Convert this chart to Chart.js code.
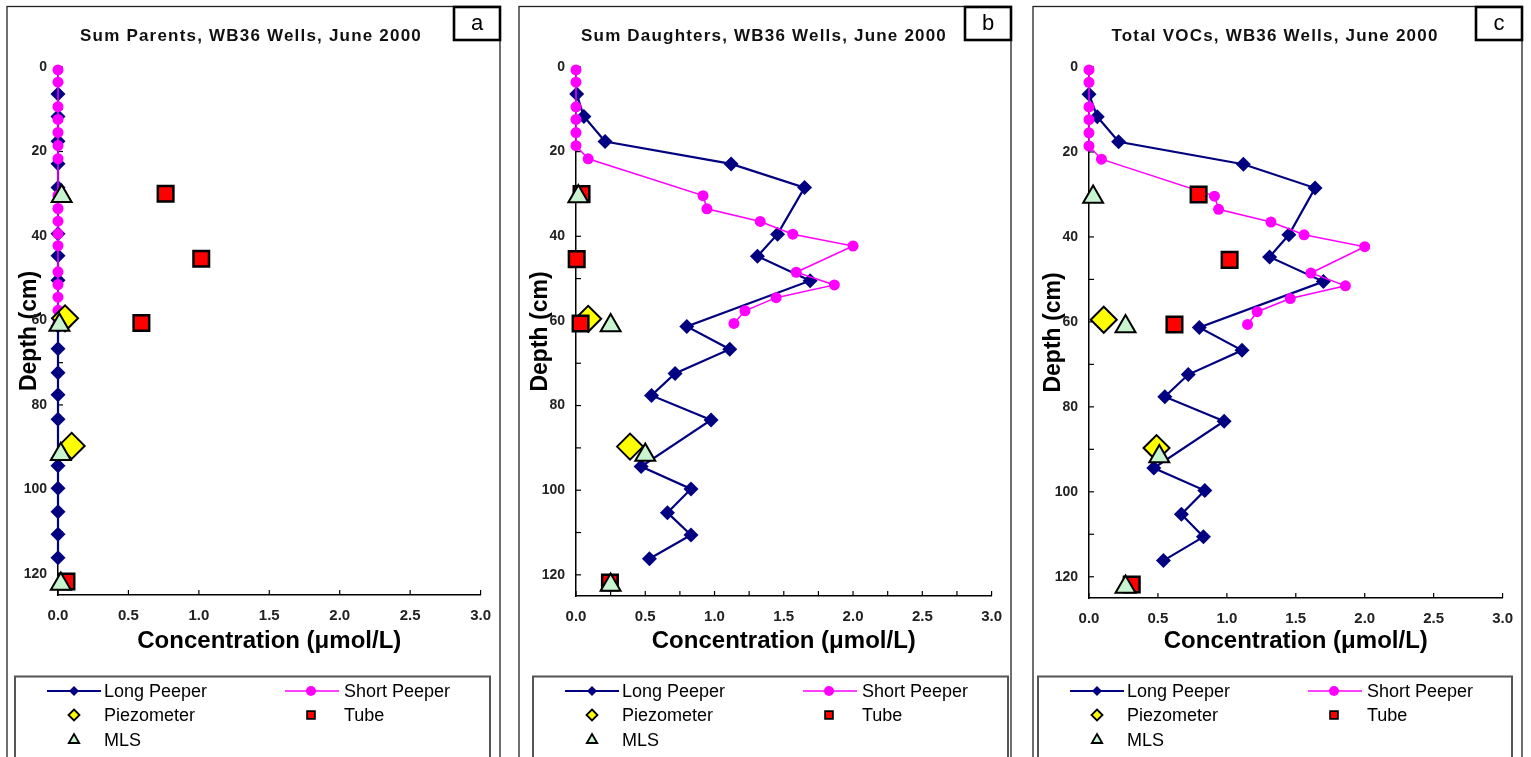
<!DOCTYPE html>
<html>
<head>
<meta charset="utf-8">
<script src="https://cdn.jsdelivr.net/npm/chart.js@4.4.1/dist/chart.umd.min.js"></script>
<style>
  html, body { margin: 0; padding: 0; background: #fff; }
  body { width: 1531px; height: 757px; position: relative; overflow: hidden; }
  canvas { position: absolute; top: 0; }
</style>
</head>
<body>
<canvas id="panelA"></canvas>
<canvas id="panelB"></canvas>
<canvas id="panelC"></canvas>
<script>
// --- data ---
const titles = ['Sum Parents, WB36 Wells, June 2000', 'Sum Daughters, WB36 Wells, June 2000', 'Total VOCs, WB36 Wells, June 2000'];
const panelLetters = ['a', 'b', 'c'];
const seriesNames = ['Long Peeper', 'Short Peeper', 'Piezometer', 'Tube', 'MLS'];
const xTickLabels = ['0.0', '0.5', '1.0', '1.5', '2.0', '2.5', '3.0'];
const yTickLabels = ['0', '20', '40', '60', '80', '100', '120'];

const depthLong = [6.4, 11.7, 17.6, 22.9, 28.5, 39.5, 44.7, 50.5, 61.3, 66.7, 72.4, 77.6, 83.4, 94.4, 99.7, 105.3, 110.6, 116.2];
const longA = [0, 0, 0, 0, 0, 0, 0, 0, 0, 0, 0, 0, 0, 0, 0, 0, 0, 0];
const longB = [0.005, 0.057, 0.21, 1.12, 1.65, 1.455, 1.31, 1.69, 0.8, 1.11, 0.715, 0.545, 0.975, 0.47, 0.83, 0.66, 0.83, 0.53];
const longC = [0.0, 0.06, 0.215, 1.12, 1.64, 1.45, 1.31, 1.70, 0.8, 1.11, 0.72, 0.55, 0.98, 0.47, 0.84, 0.67, 0.83, 0.54];

const depthShort = [0.7, 3.6, 9.4, 12.4, 15.5, 18.6, 21.7, 30.4, 33.5, 36.5, 39.5, 42.3, 48.5, 51.5, 54.5, 57.6, 60.6];
const shortA = [0, 0, 0, 0, 0, 0, 0, 0, 0, 0, 0, 0, 0, 0, 0, 0, 0];
const shortB = [0, 0, 0, 0, 0, 0, 0.088, 0.917, 0.945, 1.33, 1.565, 2.0, 1.59, 1.865, 1.445, 1.22, 1.14];
const shortC = [0, 0, 0, 0, 0, 0, 0.09, 0.91, 0.94, 1.32, 1.56, 2.0, 1.61, 1.86, 1.46, 1.22, 1.15];

const depthPiezo = [59.5, 89.7];
const piezoA = [0.05, 0.097];
const piezoB = [0.088, 0.39];
const piezoC = [0.107, 0.49];

const depthTube = [30.0, 45.4, 60.6, 121.8];
const tubeA = [0.764, 1.017, 0.592, 0.06];
const tubeB = [0.04, 0.005, 0.033, 0.245];
const tubeC = [0.795, 1.02, 0.62, 0.31];

const depthMLS = [30.6, 61.1, 91.7, 122.4];
const mlsA = [0.026, 0.01, 0.02, 0.02];
const mlsB = [0.017, 0.25, 0.5, 0.25];
const mlsC = [0.03, 0.265, 0.51, 0.265];

// --- page layout of the three panels (page pixels) ---
const panels = [
  { id: 'panelA', border: [7, 500], axis: [58, 482], bottom: 595, yTitleX: 30, titleX: 251, legend: [15, 490], xStep: 0.5,
    long: longA, short: shortA, piezo: piezoA, tube: tubeA, mls: mlsA },
  { id: 'panelB', border: [519, 1011], axis: [576, 998], bottom: 596, yTitleX: 541, titleX: 764, legend: [533, 1008], xStep: 0.25,
    long: longB, short: shortB, piezo: piezoB, tube: tubeB, mls: mlsB },
  { id: 'panelC', border: [1033, 1522], axis: [1089, 1508], bottom: 598, yTitleX: 1054, titleX: 1275, legend: [1038, 1512], xStep: 0.5,
    long: longC, short: shortC, piezo: piezoC, tube: tubeC, mls: mlsC }
];

const FONT = "'Liberation Sans', Arial, sans-serif";
const PAGE_H = 757;

function pts(xs, depths) {
  return xs.map((v, i) => ({ x: v, y: depths[i] }));
}

function drawMarker(ctx, style, x, y, r, fill, stroke, lw) {
  ctx.save();
  ctx.beginPath();
  if (style === 'rectRot') {
    ctx.moveTo(x, y - r); ctx.lineTo(x + r, y); ctx.lineTo(x, y + r); ctx.lineTo(x - r, y); ctx.closePath();
  } else if (style === 'rect') {
    const s = r * Math.SQRT1_2;
    ctx.rect(x - s, y - s, 2 * s, 2 * s);
  } else if (style === 'triangle') {
    ctx.moveTo(x, y - r); ctx.lineTo(x + r * 0.866, y + r * 0.5); ctx.lineTo(x - r * 0.866, y + r * 0.5); ctx.closePath();
  } else {
    ctx.arc(x, y, r, 0, Math.PI * 2);
  }
  ctx.fillStyle = fill; ctx.fill();
  if (lw > 0) { ctx.lineWidth = lw; ctx.strokeStyle = stroke; ctx.stroke(); }
  ctx.restore();
}

// panel frame, title, letter box, inside ticks, legend
const decorPlugin = {
  id: 'decor',
  beforeDatasetsDraw(chart) {
    const ctx = chart.ctx;
    const { x, y } = chart.scales;
    ctx.save();
    ctx.strokeStyle = '#000';
    ctx.lineWidth = 1.2;
    x.ticks.forEach(t => {
      const px = x.getPixelForValue(t.value);
      ctx.beginPath(); ctx.moveTo(px, y.bottom); ctx.lineTo(px, y.bottom - 5); ctx.stroke();
    });
    y.ticks.forEach(t => {
      const py = y.getPixelForValue(t.value);
      ctx.beginPath(); ctx.moveTo(x.left, py); ctx.lineTo(x.left + 5, py); ctx.stroke();
    });
    ctx.restore();
  },
  afterDraw(chart) {
    const ctx = chart.ctx;
    const p = chart.options.plugins.decor;
    const off = p.canvasLeft;
    const w = chart.width;
    ctx.save();

    // outer frame
    ctx.strokeStyle = '#222';
    ctx.lineWidth = 1.3;
    ctx.strokeRect(3, 6.5, w - 6, PAGE_H + 10);

    // chart title
    ctx.fillStyle = '#111';
    ctx.font = 'bold 17px ' + FONT;
    ctx.letterSpacing = '1.2px';
    ctx.textAlign = 'center';
    ctx.textBaseline = 'middle';
    ctx.fillText(p.title, p.titleX - off, 36);
    ctx.letterSpacing = '0px';

    // letter box
    const bw = 46, bh = 33;
    const bx = w - 3 - bw, by = 7;
    ctx.fillStyle = '#fff';
    ctx.fillRect(bx, by, bw, bh);
    ctx.lineWidth = 2.6;
    ctx.strokeStyle = '#000';
    ctx.strokeRect(bx, by, bw, bh);
    ctx.fillStyle = '#000';
    ctx.font = '22px ' + FONT;
    ctx.fillText(p.letter, bx + bw / 2, by + bh / 2);

    // legend box
    const lx = p.legend[0] - off, lr = p.legend[1] - off;
    ctx.lineWidth = 2;
    ctx.strokeStyle = '#555';
    ctx.strokeRect(lx, 676.5, lr - lx, 100);

    const rows = [691, 715, 740];
    const colLine = [32, 270], colMark = [59, 296], colText = [89, 329];
    ctx.font = '18px ' + FONT;
    ctx.textAlign = 'left';
    chart.data.datasets.forEach((ds, i) => {
      const row = Math.floor(i / 2), col = i % 2;
      const yy = rows[row];
      const mx = lx + colMark[col];
      if (ds.showLine) {
        ctx.beginPath();
        ctx.lineWidth = ds.borderWidth;
        ctx.strokeStyle = ds.borderColor;
        ctx.moveTo(lx + colLine[col], yy);
        ctx.lineTo(lx + colLine[col] + 54, yy);
        ctx.stroke();
        drawMarker(ctx, ds.pointStyle, mx, yy, 5, ds.pointBackgroundColor, ds.pointBorderColor, 0);
      } else {
        drawMarker(ctx, ds.pointStyle, mx, yy, ds.pointStyle === 'triangle' ? 6 : 5.5, ds.pointBackgroundColor, '#000', 1.8);
      }
      ctx.fillStyle = '#000';
      ctx.fillText(ds.label, lx + colText[col], yy + 1);
    });
    ctx.restore();
  }
};

panels.forEach((pn, idx) => {
  const canvas = document.getElementById(pn.id);
  const canvasLeft = pn.border[0] - 3;
  const width = pn.border[1] - pn.border[0] + 6;
  canvas.style.left = canvasLeft + 'px';
  canvas.width = width;
  canvas.height = PAGE_H;

  const padLeft = pn.yTitleX - 13.8 - canvasLeft;
  const yWidth = pn.axis[0] - canvasLeft - padLeft;
  const padBottom = 77;
  const xHeight = (PAGE_H - padBottom) - pn.bottom;

  const datasets = [
    { label: seriesNames[0], data: pts(pn.long, depthLong), showLine: true, borderColor: '#000080', borderWidth: 2.2,
      pointStyle: 'rectRot', pointRadius: 7.5, pointBackgroundColor: '#000080', pointBorderColor: '#000080', pointBorderWidth: 0, order: 4 },
    { label: seriesNames[1], data: pts(pn.short, depthShort), showLine: true, borderColor: '#FF00FF', borderWidth: 1.5,
      pointStyle: 'circle', pointRadius: 5.5, pointBackgroundColor: '#FF00FF', pointBorderColor: '#FF00FF', pointBorderWidth: 0, order: 3 },
    { label: seriesNames[2], data: pts(pn.piezo, depthPiezo), showLine: false,
      pointStyle: 'rectRot', pointRadius: 13, pointBackgroundColor: '#FFFF00', pointBorderColor: '#000', pointBorderWidth: 2, order: 2 },
    { label: seriesNames[3], data: pts(pn.tube, depthTube), showLine: false,
      pointStyle: 'rect', pointRadius: 11, pointBackgroundColor: '#FF0000', pointBorderColor: '#000', pointBorderWidth: 2.5, order: 1 },
    { label: seriesNames[4], data: pts(pn.mls, depthMLS), showLine: false,
      pointStyle: 'triangle', pointRadius: 11.5, pointBackgroundColor: '#C8F5D0', pointBorderColor: '#000', pointBorderWidth: 2, order: 0 }
  ];
  datasets.forEach(d => { d.clip = false; d.tension = 0; d.pointHoverRadius = d.pointRadius; });

  new Chart(canvas, {
    type: 'scatter',
    data: { datasets },
    options: {
      responsive: false,
      animation: false,
      events: [],
      layout: { padding: { left: padLeft, right: canvasLeft + width - pn.axis[1], top: 67, bottom: padBottom } },
      plugins: {
        legend: { display: false },
        tooltip: { enabled: false },
        title: { display: false },
        decor: { canvasLeft, title: titles[idx], letter: panelLetters[idx], titleX: pn.titleX, legend: pn.legend }
      },
      scales: {
        x: {
          type: 'linear', position: 'bottom', min: 0, max: 3,
          afterFit: s => { s.height = xHeight; },
          grid: { drawOnChartArea: false, drawTicks: false },
          border: { color: '#000', width: 1.5 },
          ticks: {
            stepSize: pn.xStep, autoSkip: false, maxRotation: 0, padding: 12,
            color: '#222', font: { family: FONT, size: 15, weight: 'bold' },
            callback: v => { const k = v / 0.5; return Math.abs(k - Math.round(k)) < 1e-6 ? xTickLabels[Math.round(k)] : ''; }
          },
          title: { display: true, text: 'Concentration (\u03bcmol/L)', color: '#000',
            font: { family: FONT, size: 24, weight: 'bold' }, padding: { top: 0, bottom: 24 } }
        },
        y: {
          type: 'linear', position: 'left', reverse: true, min: 0, max: 125,
          afterFit: s => { s.width = yWidth; },
          grid: { drawOnChartArea: false, drawTicks: false },
          border: { color: '#000', width: 1.5 },
          ticks: {
            stepSize: 10, includeBounds: false, autoSkip: false, padding: 11,
            color: '#222', font: { family: FONT, size: 14, weight: 'bold' },
            callback: v => (v % 20 === 0 ? yTickLabels[v / 20] : '')
          },
          title: { display: true, text: 'Depth (cm)', color: '#000',
            font: { family: FONT, size: 23, weight: 'bold' }, padding: { top: 0, bottom: 0 } }
        }
      }
    },
    plugins: [decorPlugin]
  });
});
</script>
</body>
</html>
